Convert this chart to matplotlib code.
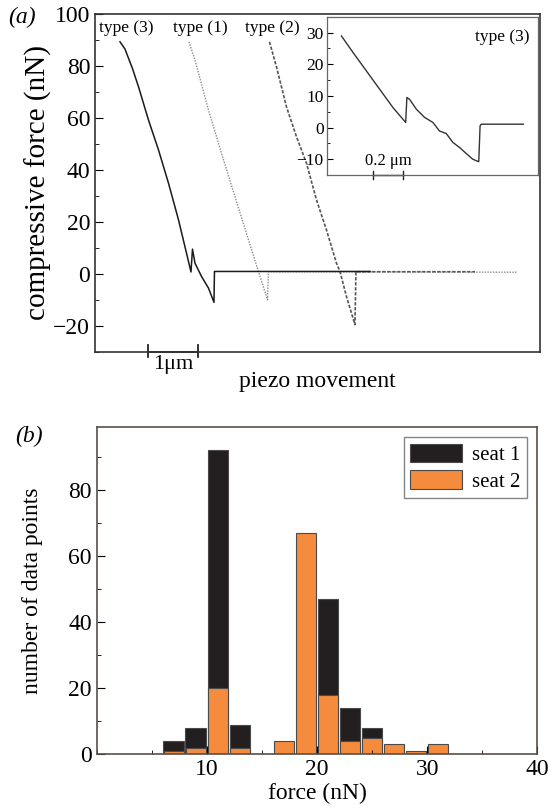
import numpy as np
import matplotlib.pyplot as plt
from matplotlib.ticker import MultipleLocator

plt.rcParams['font.family'] = ['Liberation Serif', 'DejaVu Serif']
plt.rcParams['mathtext.fontset'] = 'stix'

# (a) force curves, x in micrometres of piezo movement (arbitrary origin)
type3_x = [0.50, 0.60, 0.75, 0.87, 1.07, 1.27, 1.47, 1.67, 1.83, 1.92, 1.95, 2.00, 2.13, 2.27, 2.38, 2.39, 5.50]
type3_f = [89.3, 86.5, 79.0, 72.0, 59.2, 47.7, 34.9, 20.8, 8.0, 0.7, 9.5, 4.1, -1.0, -5.5, -11.0, 0.9, 0.9]

type1_x = [1.88, 2.00, 2.27, 2.53, 2.80, 3.07, 3.27, 3.45, 3.47, 8.44]
type1_f = [89.3, 82.3, 63.0, 46.4, 29.7, 13.1, 0.9, -10.0, 0.8, 0.6]

type2_x = [3.49, 3.63, 3.83, 4.03, 4.23, 4.43, 4.63, 4.83, 4.90, 5.03, 5.20, 5.22, 7.60]
type2_f = [89.3, 79.7, 64.3, 52.8, 42.6, 28.5, 16.9, 4.1, 0.9, -8.7, -19.6, 0.8, 0.8]

# inset: type (3) detail
inset_x = [1.487, 1.564, 1.653, 1.742, 1.831, 1.916, 1.924, 1.942, 1.987, 2.042, 2.098,
           2.142, 2.187, 2.231, 2.276, 2.320, 2.364, 2.404, 2.413, 2.420, 2.702]
inset_f = [28.9, 23.7, 17.9, 12.1, 6.3, 1.6, 9.5, 8.9, 5.8, 3.2, 1.6,
           -1.1, -1.9, -4.7, -6.3, -8.2, -10.0, -10.8, 0.5, 1.05, 1.05]

# (b) histogram of force, 2 nN bins
bin_centres = [7, 9, 11, 13, 17, 19, 21, 23, 25, 27, 29, 31]
seat1 = [4, 8, 92, 9, 0, 0, 47, 14, 8, 0, 0, 0]
seat2 = [1, 2, 20, 2, 4, 67, 18, 4, 5, 3, 1, 3]

BLACK = '#231f20'
ORANGE = '#f48b3d'
EDGE = '#4a4a4a'

fig = plt.figure(figsize=(5.52, 8.11), dpi=100)

# ---------------- panel (a) ----------------
ax = fig.add_axes([0.1721, 0.5663, 0.806, 0.4164])
ax.plot(type1_x, type1_f, color='#8a8a8a', lw=1.0, ls=(0, (1, 1)))
ax.plot(type2_x, type2_f, color='#555555', lw=1.2, ls=(0, (2, 1)))
ax.plot(type3_x, type3_f, color='#1a1a1a', lw=1.1)
ax.set_xlim(0, 8.9)
ax.set_ylim(-30, 100)
ax.set_xticks([])
ax.yaxis.set_major_locator(MultipleLocator(20))
ax.yaxis.set_minor_locator(MultipleLocator(10))
ax.tick_params(axis='y', which='both', direction='in', labelsize=17)
ax.tick_params(axis='y', which='major', length=6)
ax.tick_params(axis='y', which='minor', length=3)
for sp in ax.spines.values():
    sp.set_color('#333333')
    sp.set_linewidth(1.2)
ax.set_ylabel('compressive force (nN)', fontsize=21, labelpad=1)
ax.set_xlabel('piezo movement', fontsize=17, labelpad=14)

# scale bar on the bottom axis
ax.plot([1.06, 2.06], [-30, -30], color='#222222', lw=1.3, clip_on=False)
for xb in [1.06, 2.06]:
    ax.plot([xb, xb], [-31.9, -27.4], color='#222222', lw=1.3, clip_on=False)
ax.annotate('1μm', xy=(1.56, -30), xytext=(0, -2), textcoords='offset points',
            ha='center', va='top', fontsize=16)

ax.text(0.63, 94.6, 'type (3)', ha='center', va='center', fontsize=12.5)
ax.text(2.11, 94.6, 'type (1)', ha='center', va='center', fontsize=12.5)
ax.text(3.54, 94.6, 'type (2)', ha='center', va='center', fontsize=12.5)

fig.text(0.015, 0.978, '(a)', fontsize=17, style='italic', va='center')

# inset
axi = fig.add_axes([0.5915, 0.7842, 0.3837, 0.1952])
axi.plot(inset_x, inset_f, color='#333333', lw=1.0)
axi.set_xlim(1.387, 2.802)
axi.set_ylim(-15, 35)
axi.set_xticks([])
axi.set_yticks([-10, 0, 10, 20, 30])
axi.yaxis.set_minor_locator(MultipleLocator(5))
axi.tick_params(axis='y', which='both', direction='in', labelsize=12.5, pad=2)
axi.tick_params(axis='y', which='major', length=4)
axi.tick_params(axis='y', which='minor', length=2)
for sp in axi.spines.values():
    sp.set_color('#666666')
    sp.set_linewidth(0.9)
axi.plot([1.698, 1.898], [-15, -15], color='#222222', lw=1.0, clip_on=False)
for xb in [1.698, 1.898]:
    axi.plot([xb, xb], [-16.2, -13.8], color='#222222', lw=1.0, clip_on=False)
axi.text(1.798, -13.0, '0.2 μm', ha='center', va='bottom', fontsize=12)
axi.text(0.96, 0.87, 'type (3)', transform=axi.transAxes, ha='right', va='center', fontsize=12.5)

# ---------------- panel (b) ----------------
bx = fig.add_axes([0.1752, 0.0699, 0.7982, 0.4036])
bx.bar(bin_centres, seat1, width=1.88, color=BLACK, edgecolor=EDGE, lw=0.8, label='seat 1')
bx.bar(bin_centres, seat2, width=1.78, color=ORANGE, edgecolor=EDGE, lw=0.8, label='seat 2')
bx.set_xlim(0, 40)
bx.set_ylim(0, 99)
bx.set_xticks([10, 20, 30, 40])
bx.xaxis.set_minor_locator(MultipleLocator(5))
bx.yaxis.set_major_locator(MultipleLocator(20))
bx.yaxis.set_minor_locator(MultipleLocator(10))
bx.tick_params(which='both', direction='in', labelsize=17)
bx.tick_params(which='major', length=6)
bx.tick_params(which='minor', length=3)
for sp in bx.spines.values():
    sp.set_color('#5a4f4a')
    sp.set_linewidth(1.2)
bx.set_xlabel('force (nN)', fontsize=17, labelpad=2)
bx.set_ylabel('number of data points', fontsize=17, labelpad=18)
leg = bx.legend(loc='upper right', fontsize=15, frameon=True, fancybox=False,
                handlelength=2.5, handleheight=1.0, borderaxespad=0.5,
                handletextpad=0.5, labelspacing=0.25, borderpad=0.3)
leg.get_frame().set_edgecolor('#666666')
leg.get_frame().set_linewidth(1.0)

fig.text(0.027, 0.462, '(b)', fontsize=17, style='italic', va='center')

fig.savefig('out.png', dpi=100)
